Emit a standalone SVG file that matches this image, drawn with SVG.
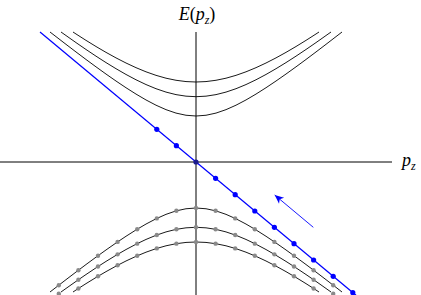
<svg xmlns="http://www.w3.org/2000/svg" xmlns:xlink="http://www.w3.org/1999/xlink" width="421" height="295" viewBox="0 0 421 295">
<style>
.band{fill:none;stroke:#000;stroke-width:0.9}
.axis{stroke:#000;stroke-width:1}
.gdot{fill:#8a8a8a}
.bdot{fill:#0000ff}
.lbl{font-family:"Liberation Serif","DejaVu Serif",serif;font-size:18px;fill:#000}
.it{font-style:italic}
.sub{font-style:italic;font-size:12px}
</style>
<defs>
<polyline id="b80" class="band" points="-123,-130 -120,-128.03 -110,-121.64 -100,-115.49 -90,-109.64 -80,-104.12 -70,-98.99 -60,-94.33 -50,-90.19 -40,-86.66 -30,-83.81 -20,-81.72 -10,-80.43 0,-80 10,-80.43 20,-81.72 30,-83.81 40,-86.66 50,-90.19 60,-94.33 70,-98.99 80,-104.12 90,-109.64 100,-115.49 110,-121.64 120,-128.03 123,-130"/>
<polyline id="b65" class="band" points="-135,-130 -130,-126.46 -120,-119.4 -110,-112.52 -100,-105.84 -90,-99.42 -80,-93.3 -70,-87.54 -60,-82.23 -50,-77.45 -40,-73.31 -30,-69.92 -20,-67.39 -10,-65.83 0,-65.3 10,-65.83 20,-67.39 30,-69.92 40,-73.31 50,-77.45 60,-82.23 70,-87.54 80,-93.3 90,-99.42 100,-105.84 110,-112.52 120,-119.4 130,-126.46 135,-130"/>
<polyline id="b46" class="band" points="-146,-130 -140,-125.36 -130,-117.66 -120,-110.04 -110,-102.53 -100,-95.16 -90,-87.96 -80,-80.98 -70,-74.27 -60,-67.93 -50,-62.05 -40,-56.8 -30,-52.35 -20,-48.92 -10,-46.75 0,-46 10,-46.75 20,-48.92 30,-52.35 40,-56.8 50,-62.05 60,-67.93 70,-74.27 80,-80.98 90,-87.96 100,-95.16 110,-102.53 120,-110.04 130,-117.66 140,-125.36 146,-130"/>
<marker id="ah" markerUnits="userSpaceOnUse" markerWidth="12" markerHeight="10" viewBox="-10 -5 11 10" refX="0" refY="0" orient="auto">
<path d="M0,0 L-9,-4 L-6.5,0 L-9,4 Z" fill="#0000ff"/>
</marker>
</defs>
<g id="upper-bands" transform="translate(196,162)">
<use xlink:href="#b80"/>
<use xlink:href="#b65"/>
<use xlink:href="#b46"/>
</g>
<g id="lower-bands" transform="translate(196,162) scale(1,-1)">
<use xlink:href="#b80"/>
<use xlink:href="#b65"/>
<use xlink:href="#b46"/>
</g>
<g id="axes">
<line class="axis" x1="0" y1="162" x2="392" y2="162"/>
<line class="axis" x1="196" y1="32" x2="196" y2="295"/>
</g>
<g id="gray-dots">
<circle class="gdot" cx="196" cy="208" r="2.2"/>
<circle class="gdot" cx="215.6" cy="210.81" r="2.2"/><circle class="gdot" cx="176.4" cy="210.81" r="2.2"/>
<circle class="gdot" cx="235.2" cy="218.41" r="2.2"/><circle class="gdot" cx="156.8" cy="218.41" r="2.2"/>
<circle class="gdot" cx="254.8" cy="229.2" r="2.2"/><circle class="gdot" cx="137.2" cy="229.2" r="2.2"/>
<circle class="gdot" cx="274.4" cy="241.88" r="2.2"/><circle class="gdot" cx="117.6" cy="241.88" r="2.2"/>
<circle class="gdot" cx="294" cy="255.71" r="2.2"/><circle class="gdot" cx="98" cy="255.71" r="2.2"/>
<circle class="gdot" cx="313.6" cy="270.23" r="2.2"/><circle class="gdot" cx="78.4" cy="270.23" r="2.2"/>
<circle class="gdot" cx="333.2" cy="285.2" r="2.2"/><circle class="gdot" cx="58.8" cy="285.2" r="2.2"/>
<circle class="gdot" cx="196" cy="227.3" r="2.2"/>
<circle class="gdot" cx="215.6" cy="229.31" r="2.2"/><circle class="gdot" cx="176.4" cy="229.31" r="2.2"/>
<circle class="gdot" cx="235.2" cy="235.01" r="2.2"/><circle class="gdot" cx="156.8" cy="235.01" r="2.2"/>
<circle class="gdot" cx="254.8" cy="243.63" r="2.2"/><circle class="gdot" cx="137.2" cy="243.63" r="2.2"/>
<circle class="gdot" cx="274.4" cy="254.36" r="2.2"/><circle class="gdot" cx="117.6" cy="254.36" r="2.2"/>
<circle class="gdot" cx="294" cy="266.54" r="2.2"/><circle class="gdot" cx="98" cy="266.54" r="2.2"/>
<circle class="gdot" cx="313.6" cy="279.74" r="2.2"/><circle class="gdot" cx="78.4" cy="279.74" r="2.2"/>
<circle class="gdot" cx="333.2" cy="293.63" r="2.2"/><circle class="gdot" cx="58.8" cy="293.63" r="2.2"/>
<circle class="gdot" cx="196" cy="242" r="2.2"/>
<circle class="gdot" cx="215.6" cy="243.65" r="2.2"/><circle class="gdot" cx="176.4" cy="243.65" r="2.2"/>
<circle class="gdot" cx="235.2" cy="248.41" r="2.2"/><circle class="gdot" cx="156.8" cy="248.41" r="2.2"/>
<circle class="gdot" cx="254.8" cy="255.8" r="2.2"/><circle class="gdot" cx="137.2" cy="255.8" r="2.2"/>
<circle class="gdot" cx="274.4" cy="265.27" r="2.2"/><circle class="gdot" cx="117.6" cy="265.27" r="2.2"/>
<circle class="gdot" cx="294" cy="276.3" r="2.2"/><circle class="gdot" cx="98" cy="276.3" r="2.2"/>
<circle class="gdot" cx="313.6" cy="288.48" r="2.2"/><circle class="gdot" cx="78.4" cy="288.48" r="2.2"/>
</g>
<g id="blue-branch">
<line x1="40" y1="32" x2="356" y2="295.3" stroke="#0000ff" stroke-width="1.2"/>
<circle class="bdot" cx="156.8" cy="129.33" r="2.6"/>
<circle class="bdot" cx="176.4" cy="145.67" r="2.6"/>
<circle cx="196" cy="162" r="2.6" fill="#1a1a8c"/>
<circle class="bdot" cx="215.6" cy="178.33" r="2.6"/>
<circle class="bdot" cx="235.2" cy="194.67" r="2.6"/>
<circle class="bdot" cx="254.8" cy="211" r="2.6"/>
<circle class="bdot" cx="274.4" cy="227.33" r="2.6"/>
<circle class="bdot" cx="294" cy="243.67" r="2.6"/>
<circle class="bdot" cx="313.6" cy="260" r="2.6"/>
<circle class="bdot" cx="333.2" cy="276.33" r="2.6"/>
<circle class="bdot" cx="352.8" cy="292.67" r="2.6"/>
</g>
<g id="connectors">
<line x1="313.3" y1="227.3" x2="274.7" y2="195" stroke="#0000ff" stroke-width="0.9" marker-end="url(#ah)"/>
</g>
<g id="labels">
<text class="lbl" x="197" y="20" text-anchor="middle"><tspan class="it">E</tspan>(<tspan class="it">p</tspan><tspan class="sub" dy="4">z</tspan><tspan dy="-4">)</tspan></text>
<text class="lbl" x="402" y="166"><tspan class="it">p</tspan><tspan class="sub" dy="4">z</tspan></text>
</g>
</svg>
